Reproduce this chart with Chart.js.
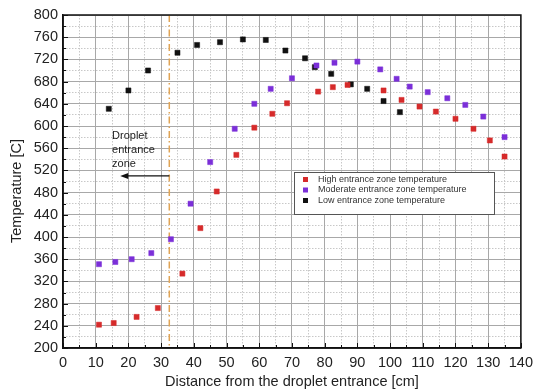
<!DOCTYPE html>
<html>
<head>
<meta charset="utf-8">
<script src="https://cdn.jsdelivr.net/npm/chart.js@4.4.0/dist/chart.umd.min.js"></script>
<style>
  html, body { margin: 0; padding: 0; background: #fff; }
  #wrap { width: 539px; height: 391px; }
</style>
</head>
<body>
<div id="wrap"><canvas id="chart"></canvas></div>
<script>
// Values
const highX = [11, 15.5, 22.5, 29, 36.5, 42, 47, 53, 58.5, 64, 68.5, 78, 82.5, 87, 98, 103.5, 109, 114, 120, 125.5, 130.5, 135];
const highY = [242, 245, 256, 272, 334, 416, 482, 548, 597, 622, 641, 662, 670, 674, 664, 647, 635, 626, 613, 595, 574, 545];

const modX = [11, 16, 21, 27, 33, 39, 45, 52.5, 58.5, 63.5, 70, 77.5, 83, 90, 97, 102, 106, 111.5, 117.5, 123, 128.5, 135];
const modY = [351, 355, 360, 371, 396, 460, 535, 595, 640, 667, 686, 709, 714, 716, 702, 685, 671, 661, 650, 638, 617, 580];

const lowX = [14, 20, 26, 35, 41, 48, 55, 62, 68, 74, 77, 82, 88, 93, 98, 103];
const lowY = [631, 664, 700, 732, 746, 751, 756, 755, 736, 722, 706, 694, 675, 667, 645, 625];

const seriesNames = ['High entrance zone temperature', 'Moderate entrance zone temperature', 'Low entrance zone temperature'];
const seriesColors = ['#d62b2b', '#7b2fd8', '#111111'];

const xTitle = 'Distance from the droplet entrance [cm]';
const yTitle = 'Temperature [C]';

// droplet entrance zone marker (data units)
const zoneX = 32.5;
const arrowTipX = 17.5;
const arrowY = 510;
const zoneText = ['Droplet', 'entrance', 'zone'];
const zoneTextX = 15;
const zoneTextY = [582, 556, 531];

const FONT = "'Liberation Sans', Arial, sans-serif";

function pts(xs, ys) {
  return xs.map((x, i) => ({ x: x, y: ys[i] }));
}

const extras = {
  id: 'extras',
  beforeDatasetsDraw(chart) {
    const { ctx, chartArea: a, scales } = chart;
    const x = scales.x, y = scales.y;
    ctx.save();
    // inward ticks on bottom and left
    ctx.strokeStyle = '#111';
    ctx.lineWidth = 1;
    for (let v = 0; v <= 140; v += 5) {
      const px = Math.round(x.getPixelForValue(v)) + 0.5;
      const len = v % 10 === 0 ? 5 : 3;
      ctx.beginPath();
      ctx.moveTo(px, a.bottom);
      ctx.lineTo(px, a.bottom - len);
      ctx.stroke();
    }
    for (let v = 200; v <= 800; v += 20) {
      const py = Math.round(y.getPixelForValue(v)) + 0.5;
      const len = v % 40 === 0 ? 5 : 3;
      ctx.beginPath();
      ctx.moveTo(a.left, py);
      ctx.lineTo(a.left + len, py);
      ctx.stroke();
    }
    // dash-dot vertical line
    const zx = x.getPixelForValue(zoneX);
    ctx.strokeStyle = '#e0a455';
    ctx.lineWidth = 1.5;
    ctx.setLineDash([7, 3, 1.5, 3]);
    ctx.beginPath();
    ctx.moveTo(zx, a.top);
    ctx.lineTo(zx, a.bottom);
    ctx.stroke();
    ctx.setLineDash([]);
    // arrow
    const ay = y.getPixelForValue(arrowY);
    const tx = x.getPixelForValue(arrowTipX);
    ctx.strokeStyle = '#111';
    ctx.fillStyle = '#111';
    ctx.lineWidth = 1.2;
    ctx.beginPath();
    ctx.moveTo(zx, ay);
    ctx.lineTo(tx + 6, ay);
    ctx.stroke();
    ctx.beginPath();
    ctx.moveTo(tx, ay);
    ctx.lineTo(tx + 8, ay - 3);
    ctx.lineTo(tx + 8, ay + 3);
    ctx.closePath();
    ctx.fill();
    // zone text
    ctx.font = '11px ' + FONT;
    ctx.fillStyle = '#222';
    ctx.textAlign = 'left';
    ctx.textBaseline = 'middle';
    zoneText.forEach((t, i) => {
      ctx.fillText(t, x.getPixelForValue(zoneTextX), y.getPixelForValue(zoneTextY[i]));
    });
    // y axis title (sits a bit below centre in the original)
    ctx.save();
    ctx.translate(17, 191);
    ctx.rotate(-Math.PI / 2);
    ctx.font = '14.5px ' + FONT;
    ctx.textAlign = 'center';
    ctx.fillStyle = '#222';
    ctx.fillText(yTitle, 0, 0);
    ctx.restore();
    ctx.restore();
  },
  afterDatasetsDraw(chart) {
    const { ctx, chartArea: a } = chart;
    ctx.save();
    // plot frame
    ctx.strokeStyle = '#111';
    ctx.lineWidth = 1.5;
    ctx.strokeRect(a.left, a.top, a.right - a.left, a.bottom - a.top);
    // legend box
    const bx = 294, by = 172, bw = 200, bh = 42;
    ctx.fillStyle = '#fff';
    ctx.fillRect(bx, by, bw, bh);
    ctx.strokeStyle = '#555';
    ctx.lineWidth = 1;
    ctx.strokeRect(bx + 0.5, by + 0.5, bw, bh);
    ctx.font = '9px ' + FONT;
    ctx.textBaseline = 'middle';
    ctx.textAlign = 'left';
    chart.data.datasets.forEach((ds, i) => {
      const ly = by + 7.5 + i * 10.5;
      ctx.fillStyle = ds.backgroundColor;
      ctx.fillRect(bx + 9, ly - 2.5, 5, 5);
      ctx.fillStyle = '#333';
      ctx.fillText(ds.label, bx + 24, ly);
    });
    ctx.restore();
  }
};

new Chart(document.getElementById('chart'), {
  type: 'scatter',
  data: {
    datasets: [
      { label: seriesNames[0], data: pts(highX, highY) },
      { label: seriesNames[1], data: pts(modX, modY) },
      { label: seriesNames[2], data: pts(lowX, lowY) }
    ].map((d, i) => Object.assign(d, {
      backgroundColor: seriesColors[i],
      borderColor: seriesColors[i],
      borderWidth: 0.5,
      pointStyle: 'rect',
      pointRadius: 3.6,
      pointHoverRadius: 3.6
    }))
  },
  options: {
    responsive: true,
    maintainAspectRatio: false,
    animation: false,
    layout: { padding: { top: 15, right: 12, left: 0, bottom: 0 } },
    plugins: { legend: { display: false }, tooltip: { enabled: false } },
    scales: {
      xm: {
        type: 'linear', position: 'bottom', min: 0, max: 140,
        ticks: { display: false, stepSize: 5 },
        grid: { color: c => (c.tick && c.tick.value % 10 === 0) ? 'rgba(0,0,0,0)' : '#c8c8c8', lineWidth: 1, drawTicks: false },
        border: { display: false, dash: [1.5, 1.5] },
        afterFit: s => { s.height = 0; }
      },
      ym: {
        type: 'linear', position: 'left', min: 200, max: 800,
        ticks: { display: false, stepSize: 20 },
        grid: { color: c => (c.tick && c.tick.value % 40 === 0) ? 'rgba(0,0,0,0)' : '#c8c8c8', lineWidth: 1, drawTicks: false },
        border: { display: false, dash: [1.5, 1.5] },
        afterFit: s => { s.width = 0; }
      },
      x: {
        type: 'linear', position: 'bottom', min: 0, max: 140,
        ticks: { stepSize: 10, color: '#222', padding: 6, font: { family: FONT, size: 14.5 } },
        grid: { color: '#a8a8a8', lineWidth: 1, drawTicks: false },
        border: { color: '#111', width: 1.5 },
        title: { display: true, text: xTitle, color: '#222', font: { family: FONT, size: 14.5 }, padding: { top: 0, bottom: 0 } },
        afterFit: s => { s.height = 43; }
      },
      y: {
        type: 'linear', position: 'left', min: 200, max: 800,
        ticks: { stepSize: 40, color: '#222', padding: 5, font: { family: FONT, size: 14.5 } },
        grid: { color: '#a8a8a8', lineWidth: 1, drawTicks: false },
        border: { color: '#111', width: 1.5 },
        afterFit: s => { s.width = 63; }
      }
    }
  },
  plugins: [extras]
});
</script>
</body>
</html>
